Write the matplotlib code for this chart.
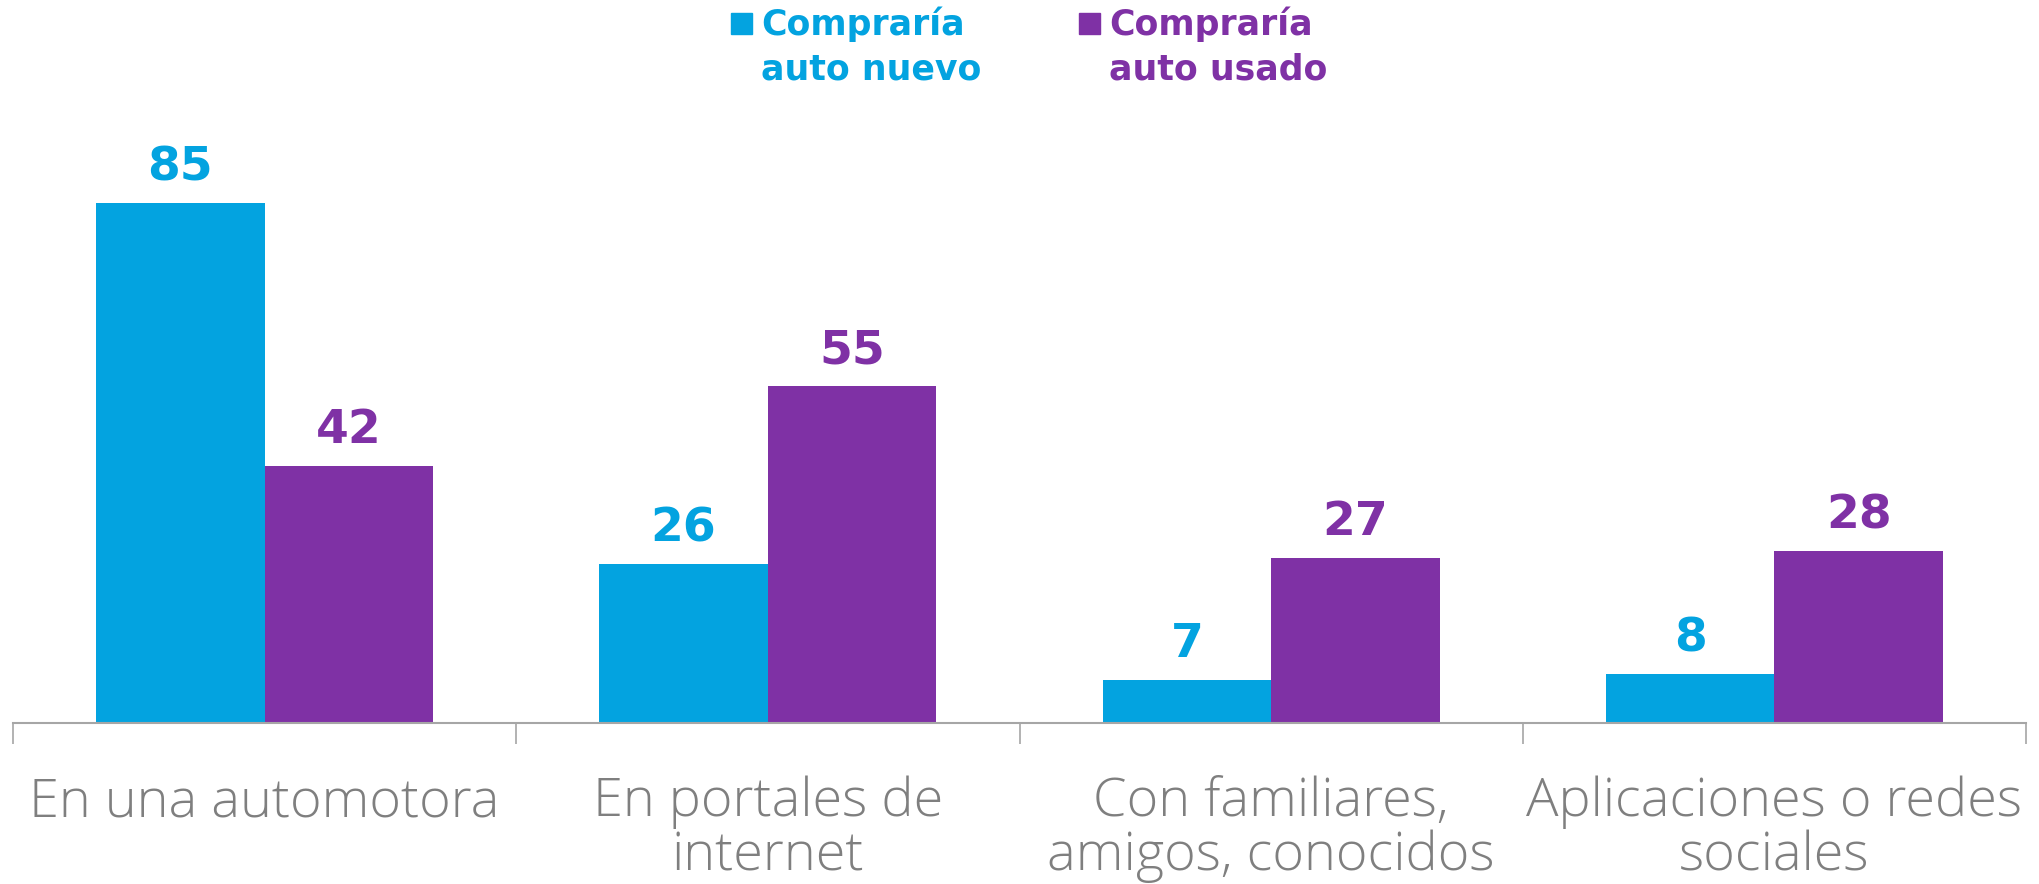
import numpy as np
import matplotlib.pyplot as plt
from matplotlib.patches import Rectangle

# ---------- Datos ----------
categorias = ["En una automotora", "En portales de\ninternet",
              "Con familiares,\namigos, conocidos", "Aplicaciones o redes\nsociales"]
auto_nuevo = [85, 26, 7, 8]
auto_usado = [42, 55, 27, 28]
series = ["Compraría\nauto nuevo", "Compraría\nauto usado"]

AZUL = "#03A3E0"
MORADO = "#7F31A5"
GRIS = "#7f7f7f"

# ---------- Figura ----------
fig = plt.figure(figsize=(20.39, 8.84), dpi=100)
ax = fig.add_axes([0.0064, 0.1824, 0.9872, 0.8176])

x = np.arange(len(categorias))
ancho = 0.335
b1 = ax.bar(x - ancho / 2, auto_nuevo, ancho, color=AZUL, linewidth=0)
b2 = ax.bar(x + ancho / 2, auto_usado, ancho, color=MORADO, linewidth=0)

for barras, color in [(b1, AZUL), (b2, MORADO)]:
    ax.bar_label(barras, padding=9, color=color, fontsize=34,
                 fontweight="bold", family="DejaVu Sans")

ax.set_xlim(-0.5, len(categorias) - 0.5)
ax.set_ylim(0, 118.1)

for lado in ["top", "right", "left"]:
    ax.spines[lado].set_visible(False)
ax.spines["bottom"].set_color("#a6a6a6")
ax.spines["bottom"].set_linewidth(1.5)
ax.set_yticks([])

ax.set_xticks(x)
ax.set_xticklabels(categorias, fontsize=39, color=GRIS, family="Open Sans",
                   fontweight="light", linespacing=1.02, va="top")
ax.tick_params(axis="x", which="major", length=0, pad=38)
ax.set_xticks(np.arange(-0.5, len(categorias)), minor=True)
ax.tick_params(axis="x", which="minor", length=15, width=1.2, color="#a6a6a6")

# ---------- Leyenda ----------
W, H = 2039, 884
for nombre, color, x0 in [(series[0], AZUL, 731), (series[1], MORADO, 1079)]:
    fig.patches.append(Rectangle((x0 / W, 1 - 34 / H), 21 / W, 21 / H,
                                 transform=fig.transFigure, color=color))
    fig.text((x0 + 30) / W, 1 - 6 / H, nombre, color=color, fontsize=25,
             fontweight="bold", family="DejaVu Sans", va="top", ha="left",
             linespacing=1.42)

fig.savefig("out.png", dpi=100)
